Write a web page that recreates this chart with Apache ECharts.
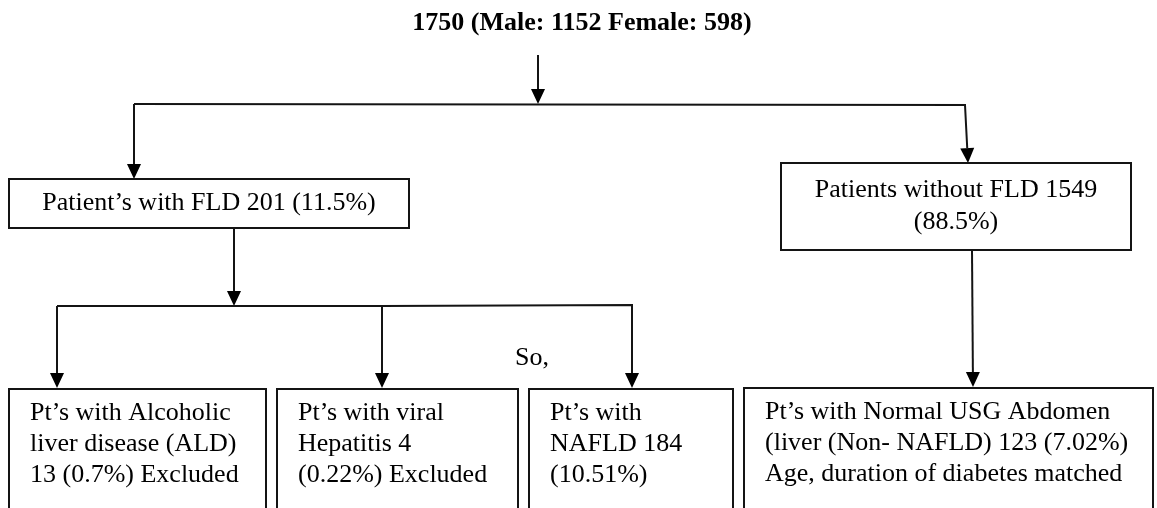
<!DOCTYPE html>
<html>
<head>
<meta charset="utf-8">
<script src="https://cdn.jsdelivr.net/npm/echarts@6/dist/echarts.min.js"></script>
<style>
    html, body {margin: 0; padding: 0; background: #fff;}
    #chart {width: 1157px; height: 508px;}
</style>
</head>
<body>
<div id="chart"></div>
<script>
// cohort numbers
const total_patients = 1750;
const male_patients = 1152;
const female_patients = 598;

// first split
const group_names = ['Patient\u2019s with FLD', 'Patients without FLD'];
const group_counts = [201, 1549];
const group_percents = ['11.5%', '88.5%'];

// second split, text lines of each box
const sub_lines = [
    ['Pt\u2019s with Alcoholic', 'liver disease (ALD)', '13 (0.7%) Excluded'],
    ['Pt\u2019s with viral', 'Hepatitis 4', '(0.22%) Excluded'],
    ['Pt\u2019s with', 'NAFLD 184', '(10.51%)'],
    ['Pt\u2019s with Normal USG Abdomen', '(liver (Non- NAFLD) 123 (7.02%)', 'Age, duration of diabetes matched']
];
const note_text = 'So,';

// ---- layout (page pixels, y down) ----
const box_layout = [
    {rect: [9, 179, 409, 228], align: 'center'},
    {rect: [781, 163, 1131, 250], align: 'center'},
    {rect: [9, 389, 266, 560], align: 'left'},
    {rect: [277, 389, 518, 560], align: 'left'},
    {rect: [529, 389, 733, 560], align: 'left'},
    {rect: [744, 388, 1153, 560], align: 'left'}
];
const arrow_paths = [
    [[538, 55], [538, 104]],
    [[134, 104], [134, 179]],
    [[134, 104], [965, 105], [968, 163]],
    [[234, 228], [234, 306]],
    [[57, 306], [57, 388]],
    [[57, 306], [382, 306], [382, 388]],
    [[382, 306], [632, 305], [632, 388]],
    [[972, 250], [973, 387]]
];
const font_family = '"Liberation Serif", "Times New Roman", serif';
const line_color = '#141414';

let box_texts = [
    `${group_names[0]} ${group_counts[0]} (${group_percents[0]})`,
    `${group_names[1]} ${group_counts[1]}\n(${group_percents[1]})`
];
sub_lines.forEach((lines) => box_texts.push(lines.join('\n')));

function render_box(params, api) {
    const lay = box_layout[params.dataIndex];
    const p0 = api.coord([lay.rect[0], lay.rect[1]]);
    const p1 = api.coord([lay.rect[2], lay.rect[3]]);
    let text_el;
    if (lay.align === 'center') {
        text_el = {
            type: 'text',
            style: {
                text: box_texts[params.dataIndex],
                x: (p0[0] + p1[0]) / 2, y: (p0[1] + p1[1]) / 2,
                align: 'center', verticalAlign: 'middle',
                fontSize: 26, fontFamily: font_family, lineHeight: 32, fill: '#000'
            }
        };
    } else {
        text_el = {
            type: 'text',
            style: {
                text: box_texts[params.dataIndex],
                x: p0[0] + 21, y: p0[1] + 9,
                align: 'left', verticalAlign: 'top',
                fontSize: 26, fontFamily: font_family, lineHeight: 31, fill: '#000'
            }
        };
    }
    return {
        type: 'group',
        children: [{
            type: 'rect',
            shape: {x: p0[0], y: p0[1], width: p1[0] - p0[0], height: p1[1] - p0[1]},
            style: {fill: '#fff', stroke: line_color, lineWidth: 2}
        }, text_el]
    };
}

function render_arrow(params, api) {
    const pts = arrow_paths[params.dataIndex].map((p) => api.coord(p));
    const tip = pts[pts.length - 1];
    const prev = pts[pts.length - 2];
    const ang = Math.atan2(tip[1] - prev[1], tip[0] - prev[0]);
    const head_len = 15, head_half = 7;
    const bx = tip[0] - head_len * Math.cos(ang), by = tip[1] - head_len * Math.sin(ang);
    const nx = -Math.sin(ang) * head_half, ny = Math.cos(ang) * head_half;
    return {
        type: 'group',
        children: [{
            type: 'polyline',
            shape: {points: pts.slice(0, -1).concat([[bx, by]])},
            style: {stroke: line_color, lineWidth: 2, fill: null}
        }, {
            type: 'polygon',
            shape: {points: [tip, [bx + nx, by + ny], [bx - nx, by - ny]]},
            style: {fill: '#000'}
        }]
    };
}

let my_chart = echarts.init(document.getElementById('chart'));
let option = {
    animation: false,
    backgroundColor: '#fff',
    grid: {left: 0, right: 0, top: 0, bottom: 0},
    xAxis: {type: 'value', min: 0, max: 1157, show: false},
    yAxis: {type: 'value', min: 0, max: 508, inverse: true, show: false},
    graphic: [{
        type: 'text', x: 582, y: 23,
        style: {
            text: `${total_patients} (Male: ${male_patients} Female: ${female_patients})`,
            align: 'center', verticalAlign: 'middle',
            fontSize: 26, fontWeight: 'bold', fontFamily: font_family, fill: '#000'
        }
    }, {
        type: 'text', x: 515, y: 358,
        style: {
            text: note_text, align: 'left', verticalAlign: 'middle',
            fontSize: 26, fontFamily: font_family, fill: '#000'
        }
    }],
    series: [{
        type: 'custom', name: 'arrows', coordinateSystem: 'cartesian2d',
        renderItem: render_arrow,
        data: arrow_paths.map((p, i) => [i])
    }, {
        type: 'custom', name: 'boxes', coordinateSystem: 'cartesian2d',
        renderItem: render_box,
        data: box_texts.map((t, i) => [i])
    }]
};
my_chart.setOption(option);
</script>
</body>
</html>
